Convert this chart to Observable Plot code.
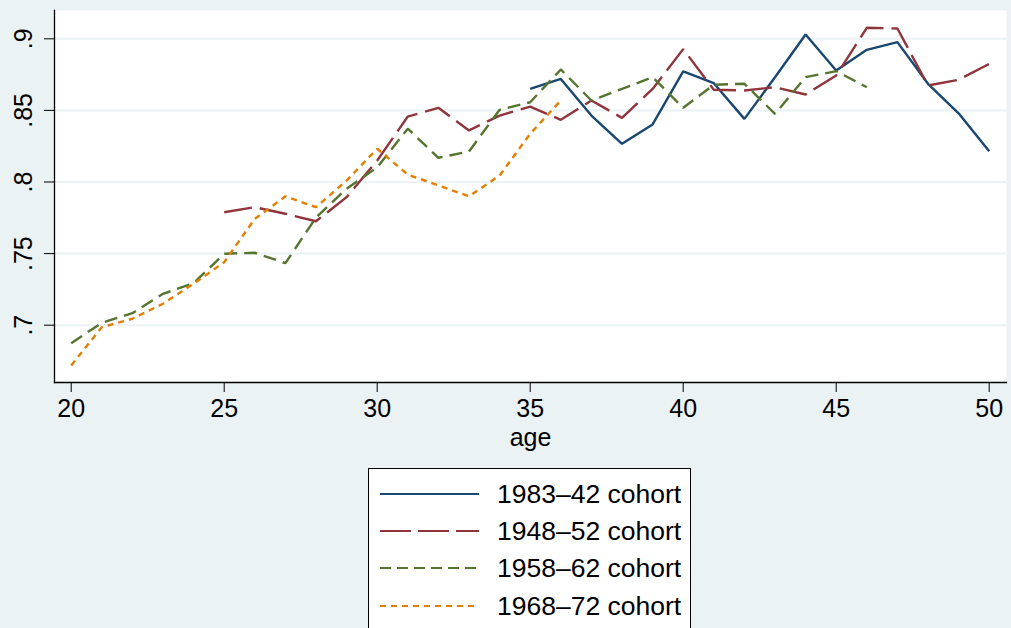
<!DOCTYPE html>
<html>
<head>
<meta charset="utf-8">
<script src="https://cdn.jsdelivr.net/npm/d3@7"></script>
<script src="https://cdn.jsdelivr.net/npm/@observablehq/plot@0.6"></script>
<style>
  html, body { margin: 0; padding: 0; background: #EAF2F3; overflow: hidden; width: 1011px; height: 628px; }
  #wrap { position: relative; width: 1011px; height: 628px; font-family: "Liberation Sans", Arial, sans-serif; }
  #legend { position: absolute; left: 368px; top: 468px; width: 323px; height: 200px; background: #fff; border: 1.5px solid #000; box-sizing: border-box; }
  .row { position: absolute; left: 0; height: 30px; width: 100%; }
  .row svg { position: absolute; left: 11px; top: 0; }
  .row span { position: absolute; left: 128px; top: 0; line-height: 30px; font-size: 26.5px; color: #000; white-space: nowrap; }
</style>
</head>
<body>
<div id="wrap"></div>
<script>
// ---- data ----
const cohortNames = ["1983\u201342 cohort", "1948\u201352 cohort", "1958\u201362 cohort", "1968\u201372 cohort"];
const cohortColors = ["#1A476F", "#90353B", "#55752F", "#E37E00"];
const cohortDashes = [null, "28,8", "13,7", "6,5"];
const legendDashes = [null, "31,7", "11,6", "6,5"];

const ages1 = d3.range(35, 51);
const vals1 = [0.865, 0.872, 0.8464, 0.8267, 0.8402, 0.8773, 0.869, 0.8441, 0.8732, 0.903, 0.8779, 0.8923, 0.8977, 0.8686, 0.848, 0.8215];

const ages2 = d3.range(25, 51);
const vals2 = [0.7789, 0.7824, 0.7778, 0.7726, 0.7894, 0.815, 0.8457, 0.8518, 0.836, 0.8464, 0.8527, 0.8434, 0.8569, 0.8448, 0.865, 0.8928, 0.8644, 0.8639, 0.8662, 0.8611, 0.8744, 0.9077, 0.9072, 0.8674, 0.8714, 0.8825];

const ages3 = d3.range(20, 47);
const vals3 = [0.6874, 0.7017, 0.7084, 0.7219, 0.7293, 0.7499, 0.7506, 0.7433, 0.7752, 0.7953, 0.8103, 0.8372, 0.8169, 0.8213, 0.8504, 0.8557, 0.8786, 0.8569, 0.865, 0.8732, 0.8518, 0.8679, 0.8686, 0.8476, 0.8732, 0.8774, 0.8662];

const ages4 = d3.range(20, 37);
const vals4 = [0.6719, 0.6986, 0.7045, 0.715, 0.7289, 0.744, 0.7743, 0.790, 0.7824, 0.801, 0.8232, 0.8052, 0.7976, 0.790, 0.8045, 0.8337, 0.8569];

const xTicks = [20, 25, 30, 35, 40, 45, 50];
const yTicks = [0.7, 0.75, 0.8, 0.85, 0.9];
const yTickLabels = [".7", ".75", ".8", ".85", ".9"];
const xLabel = "age";

// ---- build table ----
const seriesAges = [ages1, ages2, ages3, ages4];
const seriesVals = [vals1, vals2, vals3, vals4];
const tables = seriesAges.map((ages, s) => ages.map((a, i) => ({age: a, value: seriesVals[s][i], cohort: cohortNames[s]})));

const font = "Liberation Sans, Arial, sans-serif";

const chart = Plot.plot({
  width: 1011,
  height: 460,
  marginLeft: 54,
  marginRight: 5,
  marginTop: 10,
  marginBottom: 78,
  style: {background: "transparent", fontFamily: font, fontSize: "25px", color: "#000", overflow: "visible"},
  x: {domain: [20, 50], range: [70.7, 988.7]},
  y: {domain: [0.7, 0.9], range: [324.7, 38.3]},
  marks: [
    Plot.frame({fill: "#fff", stroke: "none"}),
    Plot.ruleY(yTicks, {stroke: "#EAF2F3", strokeWidth: 2}),
    ...tables.map((t, s) => Plot.line(t, {
      x: "age", y: "value",
      stroke: cohortColors[s],
      strokeWidth: 2.4,
      strokeDasharray: cohortDashes[s] || undefined,
      strokeLinejoin: "miter",
      strokeLinecap: "butt"
    })),
    Plot.frame({anchor: "left", stroke: "#000", strokeWidth: 1.3}),
    Plot.frame({anchor: "bottom", stroke: "#000", strokeWidth: 1.3}),
    Plot.axisY({ticks: yTicks, tickSize: 10, tickFormat: () => "", label: null, stroke: "#000"}),
    Plot.text(yTicks, {y: d => d, text: (d, i) => yTickLabels[i], frameAnchor: "left", dx: -31, rotate: -90, textAnchor: "middle", lineAnchor: "middle", fontSize: 25, fill: "#000"}),
    Plot.axisX({ticks: xTicks, tickSize: 10, tickPadding: 7, fontSize: 25, label: null, tickFormat: d => String(d), stroke: "#000"}),
    Plot.text([xLabel], {frameAnchor: "bottom", dy: 55, text: d => d, lineAnchor: "middle", fontSize: 25, fill: "#000"})
  ]
});

const wrap = document.getElementById("wrap");
chart.style.position = "absolute";
chart.style.left = "0px";
chart.style.top = "0px";
wrap.appendChild(chart);

// ---- legend ----
const legend = document.createElement("div");
legend.id = "legend";
const rowCenters = [25, 62.4, 99, 136.7];
cohortNames.forEach((name, i) => {
  const row = document.createElement("div");
  row.className = "row";
  row.style.top = (rowCenters[i] - 15) + "px";
  const dash = legendDashes[i] ? `stroke-dasharray="${legendDashes[i]}"` : "";
  row.innerHTML = `<svg width="100" height="30"><line x1="0" x2="99" y1="15" y2="15" stroke="${cohortColors[i]}" stroke-width="2.2" ${dash}/></svg><span>${name}</span>`;
  legend.appendChild(row);
});
wrap.appendChild(legend);
</script>
</body>
</html>
